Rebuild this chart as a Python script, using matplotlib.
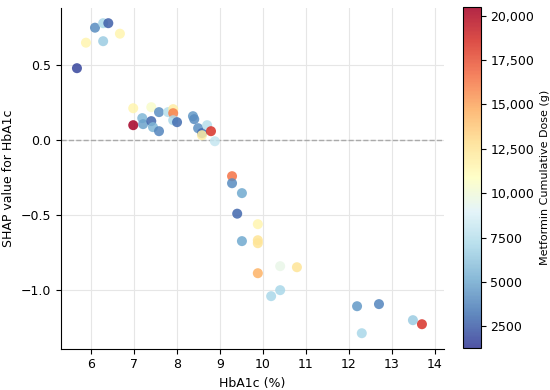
import matplotlib
matplotlib.use("Agg")
import matplotlib.pyplot as plt
from matplotlib.ticker import FuncFormatter
import numpy as np

hba1c = [5.67, 6.09, 6.28, 6.40, 5.88, 6.28, 6.67,
         6.98, 6.98, 7.19, 7.21, 7.40, 7.40, 7.44, 7.58, 7.58, 7.79, 7.91, 7.91, 7.91,
         8.00, 8.37, 8.40, 8.49, 8.58, 8.58, 8.70, 8.79, 8.88,
         9.28, 9.28, 9.51, 9.40, 9.51, 9.88, 9.88, 9.88, 9.88, 10.40, 10.79, 10.40, 10.19,
         12.19, 12.70, 12.30, 13.49, 13.70]
shap = [0.48, 0.75, 0.78, 0.78, 0.65, 0.66, 0.71,
        0.213, 0.10, 0.147, 0.107, 0.22, 0.127, 0.087, 0.187, 0.06, 0.187, 0.207, 0.18, 0.133,
        0.12, 0.16, 0.14, 0.08, 0.047, 0.033, 0.10, 0.06, -0.007,
        -0.24, -0.287, -0.353, -0.49, -0.673, -0.56, -0.667, -0.687, -0.887, -0.84, -0.847, -1.0, -1.04,
        -1.107, -1.093, -1.287, -1.20, -1.227]
dose = [1800, 4000, 7000, 2500, 11500, 6500, 11500,
        11500, 20480, 5500, 4800, 10500, 2800, 5500, 4200, 3800, 7500, 12000, 16000, 7000,
        3000, 4500, 4000, 4200, 3000, 12000, 7500, 18500, 8000,
        16500, 4000, 5000, 2800, 5000, 11500, 12500, 12500, 14500, 9500, 12500, 7000, 7000,
        4500, 3800, 7000, 6500, 18500]

fig = plt.figure(figsize=(5.5, 3.9), dpi=100)
ax = fig.add_axes([0.111, 0.106, 0.696, 0.873])
cax = fig.add_axes([0.842, 0.108, 0.032, 0.874])

ax.grid(True, color="#e6e6e6", linewidth=0.8)
ax.set_axisbelow(True)
ax.axhline(0, color="#aaaaaa", linestyle="--", linewidth=1, zorder=1)
sc = ax.scatter(hba1c, shap, c=dose, cmap="RdYlBu_r", s=52, alpha=0.85,
                edgecolors="none", vmin=1290, vmax=20480, zorder=3)
ax.set_xlim(5.30, 14.21)
ax.set_ylim(-1.39, 0.88)
ax.set_xlabel("HbA1c (%)", fontsize=9)
ax.set_ylabel("SHAP value for HbA1c", fontsize=9)
ax.tick_params(labelsize=9)
ax.spines["top"].set_visible(False)
ax.spines["right"].set_visible(False)
ax.set_xticks([6, 7, 8, 9, 10, 11, 12, 13, 14])
ax.set_yticks([-1.0, -0.5, 0.0, 0.5])

cb = fig.colorbar(sc, cax=cax)
cb.set_ticks([2500, 5000, 7500, 10000, 12500, 15000, 17500, 20000])
cb.ax.yaxis.set_major_formatter(FuncFormatter(lambda v, p: f"{v:,.0f}" if v >= 10000 else f"{v:.0f}"))
cb.ax.tick_params(labelsize=9)
cb.set_label("Metformin Cumulative Dose (g)", fontsize=8)

fig.savefig("out.png", dpi=100)
